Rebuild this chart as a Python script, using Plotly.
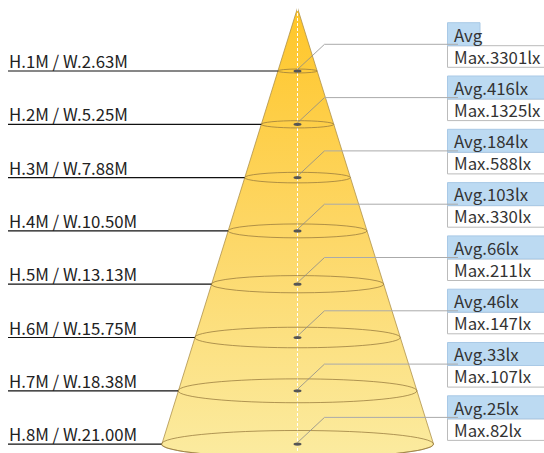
import plotly.graph_objects as go
import numpy as np

# ---- data ----
heights_m = [1, 2, 3, 4, 5, 6, 7, 8]
widths_m = ["2.63", "5.25", "7.88", "10.50", "13.13", "15.75", "18.38", "21.00"]
avg_lx = [None, 416, 184, 103, 66, 46, 33, 25]   # first value is hidden in the original
max_lx = [3301, 1325, 588, 330, 211, 147, 107, 82]

# ---- layout constants (pixel-like coordinate system) ----
W, H = 544, 453
CX = 297.5          # cone axis
APEX_Y = 8.0
Y0 = 71.0           # first level
DY = 53.3           # spacing between levels
SLOPE = 0.312       # half-width per px of depth
ELL = 0.1           # ellipse minor/major ratio
BOX_X0 = 447.5
FONT = "Noto Sans CJK SC"
FS = 16.8

def level_y(h):
    return Y0 + (h - 1) * DY

def half_w(y):
    return SLOPE * (y - APEX_Y)

fig = go.Figure()

# cone polygon
yb = level_y(heights_m[-1])
rb = half_w(yb)
t = np.linspace(np.pi, 0, 60)
arc_x = CX + rb * np.cos(t)
arc_y = yb + rb * ELL * np.sin(t)
px = [CX] + list(arc_x) + [CX]
py = [APEX_Y] + list(arc_y) + [APEX_Y]
fig.add_trace(go.Scatter(
    x=px, y=py, mode="lines", fill="toself",
    line=dict(color="rgba(170,140,70,0.75)", width=1),
    fillgradient=dict(type="vertical",
                      colorscale=[[0, "#FBEBA0"], [0.5, "#FDD766"], [1, "#FFC629"]]),
    hoverinfo="skip", showlegend=False))

shapes = []
annotations = []

# center dashed line
shapes.append(dict(type="line", x0=CX, x1=CX, y0=APEX_Y, y1=H + 5,
                   line=dict(color="white", width=1, dash="3px,2px"), layer="above"))

for i, h in enumerate(heights_m):
    y = level_y(h)
    r = half_w(y)
    # ellipse
    shapes.append(dict(type="circle", x0=CX - r, x1=CX + r, y0=y - r * ELL, y1=y + r * ELL,
                       line=dict(color="rgba(150,120,60,0.75)", width=1), layer="above"))
    # center mark
    shapes.append(dict(type="circle", x0=CX - 4, x1=CX + 4, y0=y - 1.6, y1=y + 1.6,
                       fillcolor="#555555", line=dict(width=0), layer="above"))
    # left label line
    shapes.append(dict(type="line", x0=8, x1=CX - r, y0=y, y1=y,
                       line=dict(color="#111111", width=1.2), layer="above"))
    annotations.append(dict(x=6.5, y=y - 10, text=f"H.{h}M / W.{widths_m[i]}M",
                            xanchor="left", yanchor="middle", showarrow=False,
                            font=dict(family=FONT, size=FS, color="#222222")))
    # boxes
    top = y - 48.3
    mid = y - 25.3
    bot = y - 3.7
    hdr_x1 = 480 if avg_lx[i] is None else W + 3
    shapes.append(dict(type="rect", x0=BOX_X0, x1=W + 3, y0=mid, y1=bot,
                       fillcolor="white", line=dict(color="#BBBBBB", width=1), layer="above"))
    shapes.append(dict(type="rect", x0=BOX_X0, x1=hdr_x1, y0=top, y1=mid,
                       fillcolor="#BCDAF2", line=dict(color="#A9C9E6", width=1), layer="above"))
    # leader
    ly = y - 26.7
    shapes.append(dict(type="line", x0=CX, x1=324.5, y0=y - 1.5, y1=ly,
                       line=dict(color="#8A8A8A", width=0.8), layer="above"))
    shapes.append(dict(type="line", x0=324.5, x1=458, y0=ly, y1=ly,
                       line=dict(color="#AAAAAA", width=1), layer="above"))
    avg_txt = "Avg" if avg_lx[i] is None else f"Avg.{avg_lx[i]}lx"
    annotations.append(dict(x=452, y=y - 36.5, text=avg_txt, xanchor="left", yanchor="middle",
                            showarrow=False, font=dict(family=FONT, size=FS, color="#333333")))
    annotations.append(dict(x=452, y=y - 14.5, text=f"Max.{max_lx[i]}lx", xanchor="left",
                            yanchor="middle", showarrow=False,
                            font=dict(family=FONT, size=FS, color="#333333")))

fig.update_layout(
    width=W, height=H, margin=dict(l=0, r=0, t=0, b=0),
    paper_bgcolor="white", plot_bgcolor="white",
    xaxis=dict(range=[0, W], visible=False, fixedrange=True),
    yaxis=dict(range=[H, 0], visible=False, fixedrange=True),
    shapes=shapes, annotations=annotations, showlegend=False)

fig.write_html("out.html", config={"displayModeBar": False},
               post_script="document.body.style.margin='0';document.body.style.overflow='hidden';")
